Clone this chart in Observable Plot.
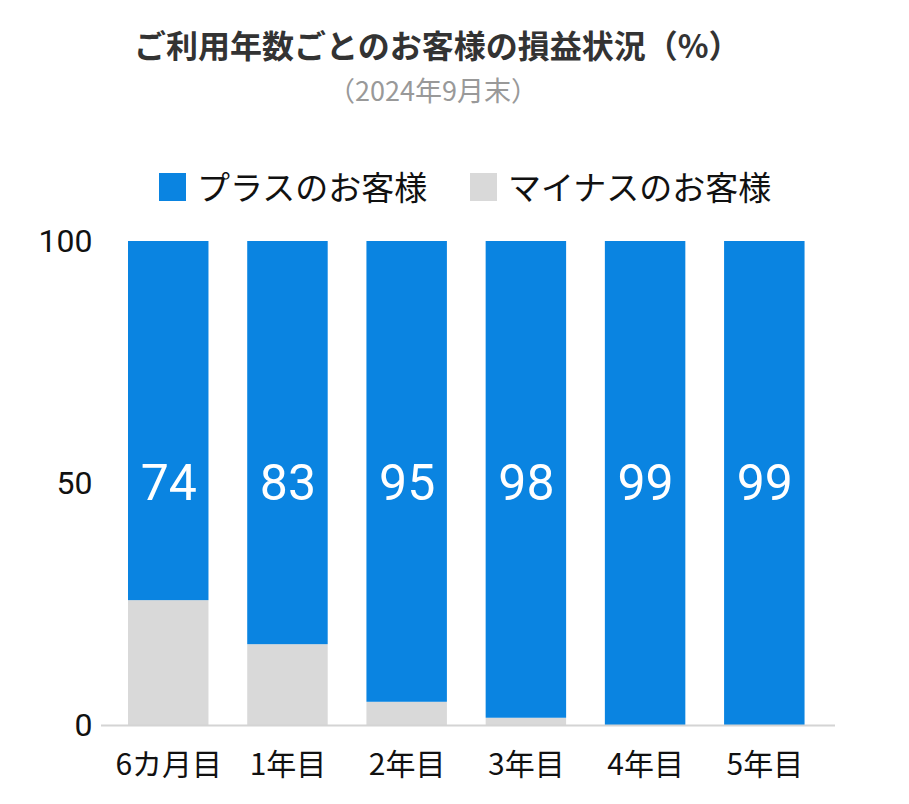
<!DOCTYPE html>
<html><head><meta charset="utf-8">
<script src="https://cdn.jsdelivr.net/npm/d3@7"></script>
<script src="https://cdn.jsdelivr.net/npm/@observablehq/plot@0.6"></script>
<style>
body{margin:0;background:#fff;font-family:"Noto Sans CJK JP",sans-serif;}
#wrap{position:relative;width:909px;height:804px;overflow:hidden;}
#head{position:relative;height:210px;}
.title{position:absolute;left:134px;top:28px;font-size:32px;line-height:32px;font-weight:700;color:#333;white-space:nowrap;}
.sub{position:absolute;left:0;width:866px;text-align:center;top:76px;font-size:27px;line-height:27px;color:#999;white-space:nowrap;}
.leg{position:absolute;top:170px;height:33px;display:flex;align-items:center;font-size:33px;line-height:33px;color:#111;white-space:nowrap;}
.sw{display:inline-block;width:27px;height:28px;margin-right:11px;}
svg{display:block;}
</style></head>
<body><div id="wrap"><div id="head"></div><div id="chart"></div></div>
<script>
const titleText = "ご利用年数ごとのお客様の損益状況（%）";
const subtitleText = "（2024年9月末）";
const categories = ["6カ月目","1年目","2年目","3年目","4年目","5年目"];
const plusValues = [74.2, 83.3, 95.2, 98.5, 100, 100];
const minusValues = [25.8, 16.7, 4.8, 1.5, 0, 0];
const plusLabels = ["74","83","95","98","99","99"];
const seriesNames = ["プラスのお客様","マイナスのお客様"];
const seriesColors = ["#0a84e1","#d9d9d9"];
const yTicks = [0, 50, 100];
const legendLeft = [159, 470];

const head = document.getElementById("head");
const t = document.createElement("div"); t.className="title"; t.textContent=titleText; head.appendChild(t);
const s = document.createElement("div"); s.className="sub"; s.textContent=subtitleText; head.appendChild(s);
seriesNames.forEach((n,i)=>{
  const l=document.createElement("div"); l.className="leg"; l.style.left=legendLeft[i]+"px";
  const sw=document.createElement("span"); sw.className="sw"; sw.style.background=seriesColors[i];
  l.appendChild(sw); l.appendChild(document.createTextNode(n)); head.appendChild(l);
});

const rows = [];
categories.forEach((c,i)=>{
  rows.push({cat:c, series:seriesNames[1], value:minusValues[i]});
  rows.push({cat:c, series:seriesNames[0], value:plusValues[i]});
});
const labelRows = categories.map((c,i)=>({cat:c, plus:plusValues[i], minus:minusValues[i], label:plusLabels[i]}));

const chart = Plot.plot({
  width:909, height:594,
  marginTop:31, marginBottom:79, marginLeft:101, marginRight:74,
  style:{color:"#111", background:"#fff"},
  x:{domain:categories, paddingInner:0.325, paddingOuter:0.241, align:0.47, round:false, label:null},
  y:{domain:[0,100], label:null},
  color:{domain:seriesNames, range:seriesColors},
  marks:[
    Plot.barY(rows, {x:"cat", y:"value", fill:"series"}),
    Plot.ruleY([0], {stroke:"#d4d4d4", strokeWidth:2}),
    Plot.text(labelRows, {x:"cat", y:d=>(d.plus+d.minus)/2, text:"label", fill:"white", fontSize:50, fontFamily:"Roboto"}),
    Plot.axisY({ticks:yTicks, tickSize:0, tickPadding:9, fontSize:32, fontFamily:"Roboto", label:null}),
    Plot.axisX({tickSize:0, tickPadding:28, fontSize:30, fontFamily:"Noto Sans CJK JP", label:null})
  ]
});
document.getElementById("chart").appendChild(chart);
</script></body></html>
